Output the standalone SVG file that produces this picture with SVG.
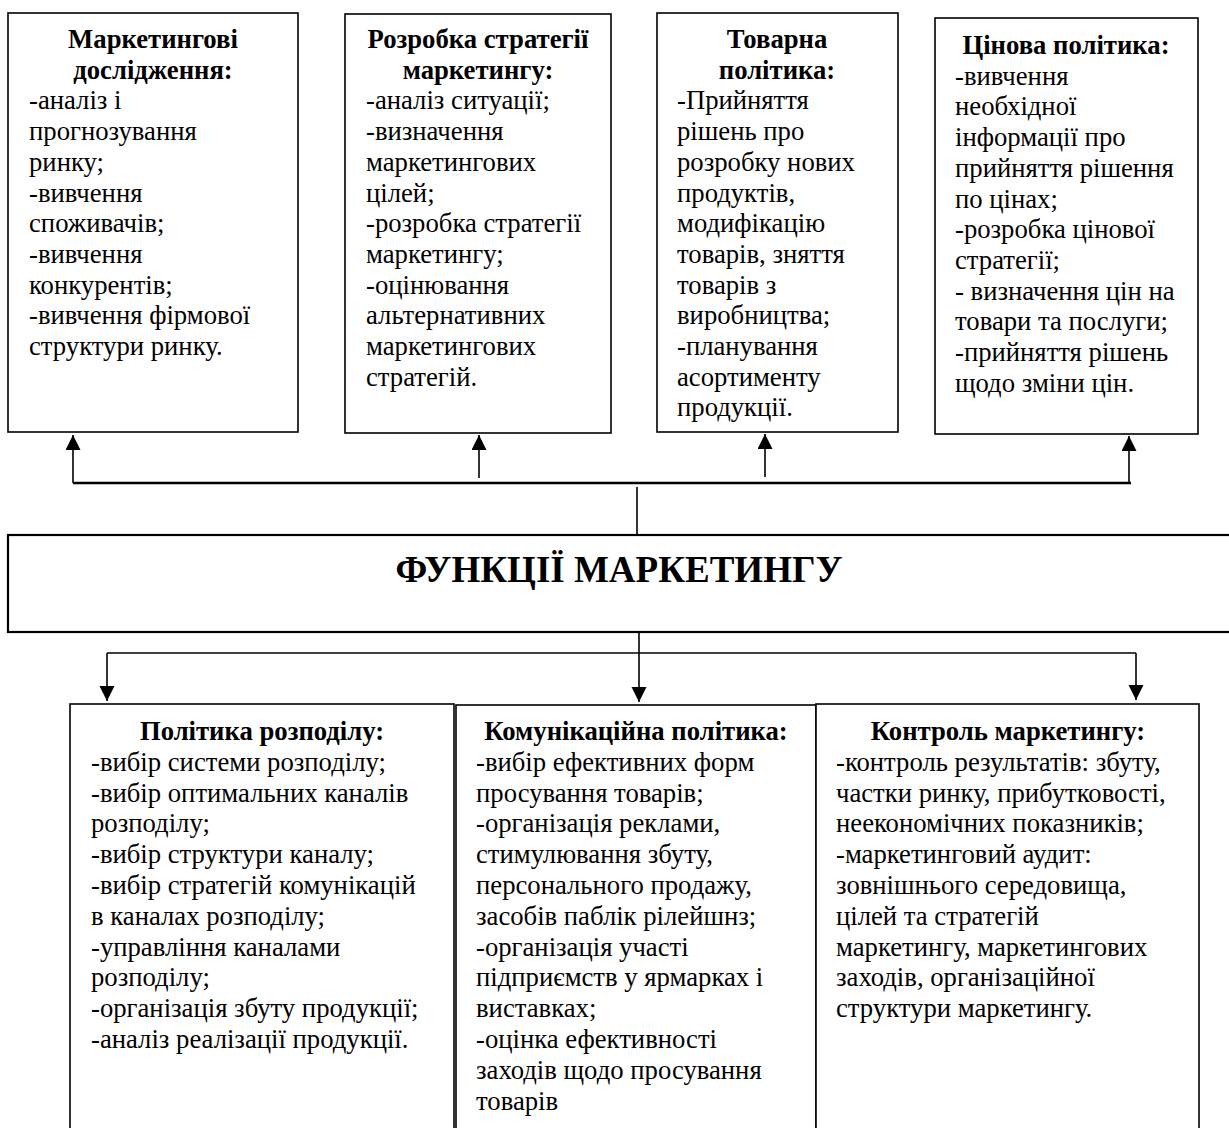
<svg xmlns="http://www.w3.org/2000/svg" width="1229" height="1128" viewBox="0 0 1229 1128">
<style>
.box{fill:#fff;stroke:#000;stroke-width:1.6}
.t{font-family:"Liberation Serif","Times New Roman",serif;font-size:26.7px;fill:#000}
.h{font-weight:bold;text-anchor:middle}
.ln{fill:none;stroke:#000;stroke-width:1.6}
</style>
<defs>
<marker id="ah" markerUnits="userSpaceOnUse" markerWidth="16" markerHeight="16" refX="15" refY="7.5" orient="auto">
<path d="M0,0 L15,7.5 L0,15 Z" fill="#000"/>
</marker>
</defs>
<rect width="1229" height="1128" fill="#fff"/>

<g id="connectors">
<path class="ln" d="M73,483 H1131" style="stroke-width:2.4"/>
<path class="ln" d="M73,483 V435" marker-end="url(#ah)"/>
<path class="ln" d="M479,478 V435" marker-end="url(#ah)"/>
<path class="ln" d="M765,477 V434" marker-end="url(#ah)"/>
<path class="ln" d="M1129,483 V436" marker-end="url(#ah)"/>
<path class="ln" d="M637,487 V535"/>
<path class="ln" d="M639,632 V702" marker-end="url(#ah)"/>
<path class="ln" d="M107,653 H1136"/>
<path class="ln" d="M107,653 V701" marker-end="url(#ah)"/>
<path class="ln" d="M1136,653 V700" marker-end="url(#ah)"/>
</g>

<g id="n1">
<rect class="box" x="8" y="13" width="290" height="419"/>
<text class="t h" x="153" y="48">Маркетингові</text>
<text class="t h" x="153" y="78.7">дослідження:</text>
<text class="t" x="29" y="109.4">-аналіз і</text>
<text class="t" x="29" y="140.1">прогнозування</text>
<text class="t" x="29" y="170.8">ринку;</text>
<text class="t" x="29" y="201.5">-вивчення</text>
<text class="t" x="29" y="232.2">споживачів;</text>
<text class="t" x="29" y="262.9">-вивчення</text>
<text class="t" x="29" y="293.6">конкурентів;</text>
<text class="t" x="29" y="324.3">-вивчення фірмової</text>
<text class="t" x="29" y="355">структури ринку.</text>
</g>

<g id="n2">
<rect class="box" x="345" y="14" width="266" height="419"/>
<text class="t h" x="478" y="48">Розробка стратегії</text>
<text class="t h" x="478" y="78.7">маркетингу:</text>
<text class="t" x="366" y="109.4">-аналіз ситуації;</text>
<text class="t" x="366" y="140.1">-визначення</text>
<text class="t" x="366" y="170.8">маркетингових</text>
<text class="t" x="366" y="201.5">цілей;</text>
<text class="t" x="366" y="232.2">-розробка стратегії</text>
<text class="t" x="366" y="262.9">маркетингу;</text>
<text class="t" x="366" y="293.6">-оцінювання</text>
<text class="t" x="366" y="324.3">альтернативних</text>
<text class="t" x="366" y="355">маркетингових</text>
<text class="t" x="366" y="385.7">стратегій.</text>
</g>

<g id="n3">
<rect class="box" x="657" y="13" width="241" height="419"/>
<text class="t h" x="777" y="48">Товарна</text>
<text class="t h" x="777" y="78.7">політика:</text>
<text class="t" x="677" y="109.4">-Прийняття</text>
<text class="t" x="677" y="140.1">рішень про</text>
<text class="t" x="677" y="170.8">розробку нових</text>
<text class="t" x="677" y="201.5">продуктів,</text>
<text class="t" x="677" y="232.2">модифікацію</text>
<text class="t" x="677" y="262.9">товарів, зняття</text>
<text class="t" x="677" y="293.6">товарів з</text>
<text class="t" x="677" y="324.3">виробництва;</text>
<text class="t" x="677" y="355">-планування</text>
<text class="t" x="677" y="385.7">асортименту</text>
<text class="t" x="677" y="416.4">продукції.</text>
</g>

<g id="n4">
<rect class="box" x="935" y="18" width="263" height="416"/>
<text class="t h" x="1066" y="54">Цінова політика:</text>
<text class="t" x="955" y="84.7">-вивчення</text>
<text class="t" x="955" y="115.4">необхідної</text>
<text class="t" x="955" y="146.1">інформації про</text>
<text class="t" x="955" y="176.8">прийняття рішення</text>
<text class="t" x="955" y="207.5">по цінах;</text>
<text class="t" x="955" y="238.2">-розробка цінової</text>
<text class="t" x="955" y="268.9">стратегії;</text>
<text class="t" x="955" y="299.6">- визначення цін на</text>
<text class="t" x="955" y="330.3">товари та послуги;</text>
<text class="t" x="955" y="361">-прийняття рішень</text>
<text class="t" x="955" y="391.7">щодо зміни цін.</text>
</g>

<g id="center">
<rect class="box" x="8" y="535" width="1240" height="97" style="stroke-width:2.2"/>
<text class="t h" x="619" y="582" style="font-size:37px">ФУНКЦІЇ МАРКЕТИНГУ</text>
</g>

<g id="n5">
<rect class="box" x="70" y="704" width="384" height="450"/>
<text class="t h" x="262" y="740">Політика розподілу:</text>
<text class="t" x="91" y="770.8">-вибір системи розподілу;</text>
<text class="t" x="91" y="801.6">-вибір оптимальних каналів</text>
<text class="t" x="91" y="832.4">розподілу;</text>
<text class="t" x="91" y="863.2">-вибір структури каналу;</text>
<text class="t" x="91" y="894">-вибір стратегій комунікацій</text>
<text class="t" x="91" y="924.8">в каналах розподілу;</text>
<text class="t" x="91" y="955.6">-управління каналами</text>
<text class="t" x="91" y="986.4">розподілу;</text>
<text class="t" x="91" y="1017.2">-організація збуту продукції;</text>
<text class="t" x="91" y="1048">-аналіз реалізації продукції.</text>
</g>

<g id="n6">
<rect class="box" x="456" y="705" width="360" height="450"/>
<text class="t h" x="636" y="740">Комунікаційна політика:</text>
<text class="t" x="476" y="770.8">-вибір ефективних форм</text>
<text class="t" x="476" y="801.6">просування товарів;</text>
<text class="t" x="476" y="832.4">-організація реклами,</text>
<text class="t" x="476" y="863.2">стимулювання збуту,</text>
<text class="t" x="476" y="894">персонального продажу,</text>
<text class="t" x="476" y="924.8">засобів паблік рілейшнз;</text>
<text class="t" x="476" y="955.6">-організація участі</text>
<text class="t" x="476" y="986.4">підприємств у ярмарках і</text>
<text class="t" x="476" y="1017.2">виставках;</text>
<text class="t" x="476" y="1048">-оцінка ефективності</text>
<text class="t" x="476" y="1078.8">заходів щодо просування</text>
<text class="t" x="476" y="1109.6">товарів</text>
</g>

<g id="n7">
<rect class="box" x="816" y="704" width="383" height="450"/>
<text class="t h" x="1008" y="740">Контроль маркетингу:</text>
<text class="t" x="836" y="770.8">-контроль результатів: збуту,</text>
<text class="t" x="836" y="801.6">частки ринку, прибутковості,</text>
<text class="t" x="836" y="832.4">неекономічних показників;</text>
<text class="t" x="836" y="863.2">-маркетинговий аудит:</text>
<text class="t" x="836" y="894">зовнішнього середовища,</text>
<text class="t" x="836" y="924.8">цілей та стратегій</text>
<text class="t" x="836" y="955.6">маркетингу, маркетингових</text>
<text class="t" x="836" y="986.4">заходів, організаційної</text>
<text class="t" x="836" y="1017.2">структури маркетингу.</text>
</g>
</svg>
